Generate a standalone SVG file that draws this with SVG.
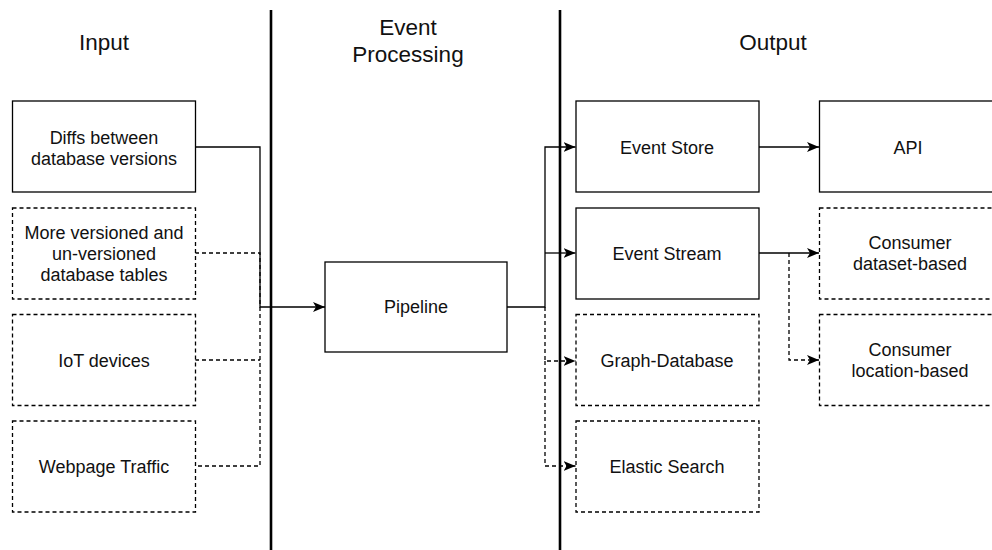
<svg xmlns="http://www.w3.org/2000/svg" width="992" height="550" viewBox="0 0 992 550">
  <style>
    .box { fill: #ffffff; stroke: #000000; stroke-width: 1.3; }
    .dash { stroke-dasharray: 4 3; }
    .lbl { font-family: "Liberation Sans", Arial, sans-serif; font-size: 18px; fill: #111111; text-anchor: middle; }
    .hdr { font-family: "Liberation Sans", Arial, sans-serif; font-size: 22.5px; fill: #111111; text-anchor: middle; }
    .sep { stroke: #000000; stroke-width: 2.6; fill: none; }
    .edge { fill: none; stroke: #000000; stroke-width: 1.3; }
  </style>
  <defs>
    <marker id="arrow" viewBox="0 0 12 10" refX="12" refY="5" markerWidth="12" markerHeight="10" markerUnits="userSpaceOnUse" orient="auto">
      <path d="M0,0 L12,5 L0,10 L3,5 Z" fill="#000000" stroke="none"/>
    </marker>
  </defs>

  <rect width="992" height="550" fill="#ffffff"/>

  <!-- column separators -->
  <g id="separators">
    <line class="sep" x1="271" y1="10" x2="271" y2="550"/>
    <line class="sep" x1="560" y1="10" x2="560" y2="550"/>
  </g>

  <!-- column headings -->
  <g id="headings">
    <text class="hdr" x="104" y="50">Input</text>
    <text class="hdr" x="408" y="35">Event</text>
    <text class="hdr" x="408" y="62">Processing</text>
    <text class="hdr" x="773" y="50">Output</text>
  </g>

  <!-- connectors -->
  <g id="connectors">
    <!-- inputs into pipeline -->
    <path class="edge" d="M195,147 H260 V307 H325" marker-end="url(#arrow)"/>
    <path class="edge dash" d="M195,253 H260 V466 H195"/>
    <path class="edge dash" d="M195,360 H260"/>
    <!-- pipeline to outputs -->
    <path class="edge" d="M507,307 H545 V147 H575.5" marker-end="url(#arrow)"/>
    <path class="edge" d="M545,253 H575.5" marker-end="url(#arrow)"/>
    <path class="edge dash" d="M545,307 V361 H575.5" marker-end="url(#arrow)"/>
    <path class="edge dash" d="M545,361 V466 H575.5" marker-end="url(#arrow)"/>
    <!-- downstream -->
    <path class="edge" d="M759,147 H819" marker-end="url(#arrow)"/>
    <path class="edge" d="M759,253 H819" marker-end="url(#arrow)"/>
    <path class="edge dash" d="M789,253 V360 H819" marker-end="url(#arrow)"/>
  </g>

  <!-- input nodes -->
  <g id="diffs">
    <rect class="box" x="12.5" y="101" width="183" height="91"/>
    <text class="lbl" x="104" y="143.5">Diffs between</text>
    <text class="lbl" x="104" y="164.5">database versions</text>
  </g>
  <g id="tables">
    <rect class="box dash" x="12.5" y="208" width="183" height="91"/>
    <text class="lbl" x="104" y="238.5">More versioned and</text>
    <text class="lbl" x="104" y="259.5">un-versioned</text>
    <text class="lbl" x="104" y="280.5">database tables</text>
  </g>
  <g id="iot">
    <rect class="box dash" x="12.5" y="314.5" width="183" height="91"/>
    <text class="lbl" x="104" y="366.5">IoT devices</text>
  </g>
  <g id="webtraffic">
    <rect class="box dash" x="12.5" y="421" width="183" height="91"/>
    <text class="lbl" x="104" y="472.5">Webpage Traffic</text>
  </g>

  <!-- processing -->
  <g id="pipeline">
    <rect class="box" x="325" y="262" width="182" height="90"/>
    <text class="lbl" x="416" y="313">Pipeline</text>
  </g>

  <!-- output nodes -->
  <g id="eventstore">
    <rect class="box" x="576" y="101" width="183" height="91"/>
    <text class="lbl" x="667" y="153.5">Event Store</text>
  </g>
  <g id="eventstream">
    <rect class="box" x="576" y="208" width="183" height="91"/>
    <text class="lbl" x="667" y="259.5">Event Stream</text>
  </g>
  <g id="graphdb">
    <rect class="box dash" x="576" y="314.5" width="183" height="91"/>
    <text class="lbl" x="667" y="367">Graph-Database</text>
  </g>
  <g id="elastic">
    <rect class="box dash" x="576" y="421" width="183" height="91"/>
    <text class="lbl" x="667" y="472.5">Elastic Search</text>
  </g>
  <g id="api">
    <rect class="box" x="819.5" y="101" width="183" height="91"/>
    <text class="lbl" x="908" y="153.5">API</text>
  </g>
  <g id="consumer-dataset">
    <rect class="box dash" x="819.5" y="208" width="183" height="91"/>
    <text class="lbl" x="910" y="249">Consumer</text>
    <text class="lbl" x="910" y="270">dataset-based</text>
  </g>
  <g id="consumer-location">
    <rect class="box dash" x="819.5" y="314.5" width="183" height="91"/>
    <text class="lbl" x="910" y="355.5">Consumer</text>
    <text class="lbl" x="910" y="376.5">location-based</text>
  </g>
</svg>
